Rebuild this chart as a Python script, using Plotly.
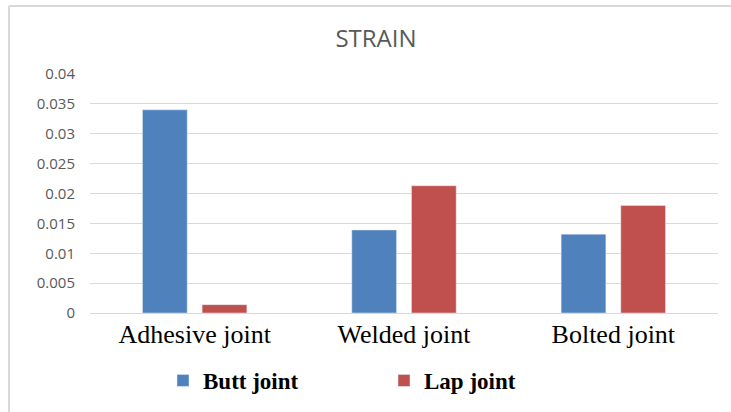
import plotly.graph_objects as go

categories = ["Adhesive joint", "Welded joint", "Bolted joint"]
butt_joint = [0.034, 0.0139, 0.0132]
lap_joint = [0.0014, 0.0213, 0.018]
y_ticks = [0, 0.005, 0.01, 0.015, 0.02, 0.025, 0.03, 0.035, 0.04]
y_tick_labels = ["0", "0.005", "0.01", "0.015", "0.02", "0.025", "0.03", "0.035", "0.04"]

W, H = 731, 412
ml, mr, mt, mb = 90, 13, 74, 99

fig = go.Figure()
fig.add_trace(go.Bar(name="Butt joint", x=categories, y=butt_joint, marker_color="#4F81BD"))
fig.add_trace(go.Bar(name="Lap joint", x=categories, y=lap_joint, marker_color="#C0504D"))


def px_x(p):
    return (p - ml) / (W - ml - mr)


def px_y(p):
    return 1 - (p - mt) / (H - mt - mb)


fig.update_layout(
    width=W, height=H,
    margin=dict(l=ml, r=mr, t=mt, b=mb),
    paper_bgcolor="white", plot_bgcolor="white",
    barmode="group", bargap=0.43, bargroupgap=0.25,
    title=dict(text="STRAIN", x=376 / W, xanchor="center", y=1 - 39 / H, yanchor="middle",
               font=dict(family="Open Sans", size=24, color="#595959")),
    xaxis=dict(showgrid=False, showline=False, ticks="", automargin=False, ticklabelstandoff=3,
               tickfont=dict(family="Liberation Serif", size=26, color="black")),
    yaxis=dict(range=[0, 0.04], tickvals=y_ticks, ticktext=y_tick_labels, showgrid=True, automargin=False,
               gridcolor="#d9d9d9", gridwidth=1, zeroline=True, zerolinecolor="#d9d9d9", zerolinewidth=1,
               tickfont=dict(family="Open Sans", size=15, color="#595959"), ticks="", ticklabelstandoff=14),
    legend=dict(orientation="h", xref="container", yref="container", x=163 / W, y=1 - 359 / H,
                xanchor="left", yanchor="top", entrywidth=176, entrywidthmode="pixels",
                font=dict(family="Liberation Serif", size=23, color="black", weight="bold"),
                bgcolor="rgba(0,0,0,0)"),
    showlegend=True,
    shapes=[
        dict(type="line", xref="paper", yref="paper", x0=px_x(9), x1=px_x(731), y0=px_y(6), y1=px_y(6),
             line=dict(color="#d9d9d9", width=2)),
        dict(type="line", xref="paper", yref="paper", x0=px_x(9), x1=px_x(9), y0=px_y(6), y1=px_y(412),
             line=dict(color="#d9d9d9", width=2)),
    ],
)

fig.write_html("out.html", config={"displayModeBar": False},
               post_script="document.body.style.margin='0';")
